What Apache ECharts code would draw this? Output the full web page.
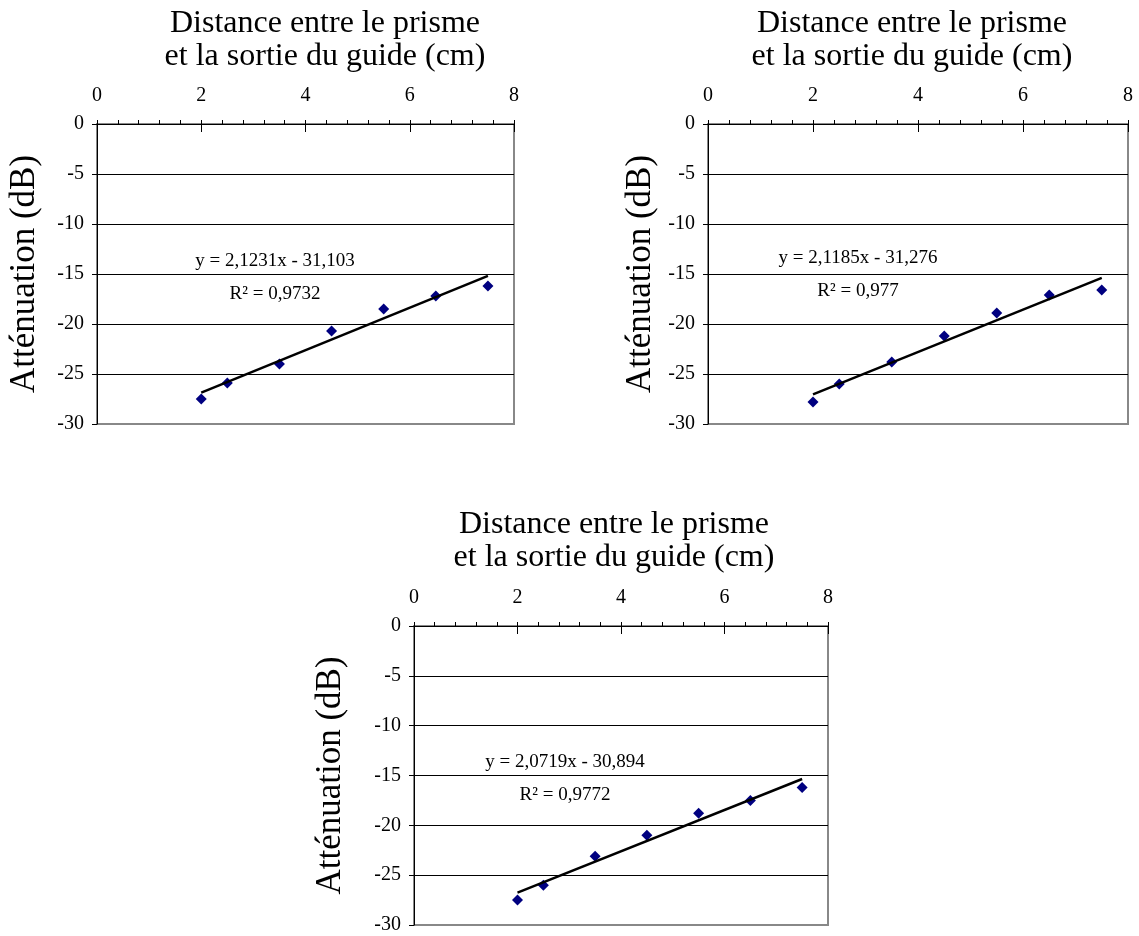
<!DOCTYPE html>
<html>
<head>
<meta charset="utf-8">
<script src="https://cdn.jsdelivr.net/npm/echarts@6/dist/echarts.min.js"></script>
<style>
html,body{margin:0;padding:0;background:#fff;}
#c{width:1139px;height:936px;}
</style>
</head>
<body>
<div id="c"></div>
<script>
// ---- data ----
var xValues = [2, 2.5, 3.5, 4.5, 5.5, 6.5, 7.5];
var atten1 = [-27.5, -25.9, -24.0, -20.7, -18.5, -17.2, -16.2];
var atten2 = [-27.8, -26.0, -23.8, -21.2, -18.9, -17.1, -16.6];
var atten3 = [-27.5, -26.0, -23.1, -21.0, -18.8, -17.5, -16.2];
var trendX = [2, 7.5];
var trend1Y = [-26.86, -15.18];
var trend2Y = [-27.04, -15.39];
var trend3Y = [-26.75, -15.35];
var eqText = ['y = 2,1231x - 31,103', 'y = 2,1185x - 31,276', 'y = 2,0719x - 30,894'];
var r2Text = ['R\u00B2 = 0,9732', 'R\u00B2 = 0,977', 'R\u00B2 = 0,9772'];
var xTicks = {min: 0, max: 8, interval: 2};
var yTicks = {min: -30, max: 0, interval: 5};
var titleText = 'Distance entre le prisme\net la sortie du guide (cm)';
var yName = 'Atténuation (dB)';

// ---- layout ----
var FONT = '"Liberation Serif", "Times New Roman", serif';
var grids = [
  {left: 97, top: 124, width: 417, height: 300},
  {left: 708, top: 124, width: 420, height: 300},
  {left: 414, top: 626, width: 414, height: 299}
];
var titlePos = [{x: 325, y: 7}, {x: 912, y: 7}, {x: 614, y: 508}];
var nameGaps = [55, 50, 66];
var eqPos = [
  {x: 275, y1: 261, y2: 294},
  {x: 858, y1: 258, y2: 291},
  {x: 565, y1: 762, y2: 795}
];
var series = [atten1, atten2, atten3];
var trends = [trend1Y, trend2Y, trend3Y];

function zip(a, b) { return a.map(function (v, i) { return [v, b[i]]; }); }

var option = {
  animation: false,
  backgroundColor: '#fff',
  title: [], grid: [], xAxis: [], yAxis: [], series: [], graphic: []
};

var splitColors = ['#888888', '#000', '#000', '#000', '#000', '#000', '#000'];

for (var k = 0; k < 3; k++) {
  option.title.push({
    text: titleText, left: titlePos[k].x, top: titlePos[k].y, textAlign: 'center', padding: 0,
    textStyle: {fontFamily: FONT, fontSize: 32, fontWeight: 'normal', color: '#000', lineHeight: 33}
  });
  option.grid.push({
    left: grids[k].left, top: grids[k].top, width: grids[k].width, height: grids[k].height,
    show: true, borderColor: '#888888', borderWidth: 2, backgroundColor: '#fff'
  });
  option.xAxis.push({
    type: 'value', gridIndex: k, position: 'top',
    min: xTicks.min, max: xTicks.max, interval: xTicks.interval,
    axisLine: {show: true, lineStyle: {color: '#000', width: 1}},
    axisTick: {show: true, inside: false, length: 4, lineStyle: {color: '#000'}},
    minorTick: {show: true, splitNumber: 5, length: 4, lineStyle: {color: '#000'}},
    splitLine: {show: false},
    axisLabel: {fontFamily: FONT, fontSize: 20, color: '#000', margin: 18}
  });
  option.xAxis.push({
    type: 'value', gridIndex: k, position: 'top',
    min: xTicks.min, max: xTicks.max, interval: xTicks.interval,
    axisLine: {show: false},
    axisTick: {show: true, inside: true, length: 8, lineStyle: {color: '#000'}},
    splitLine: {show: false},
    axisLabel: {show: false}
  });
  option.yAxis.push({
    type: 'value', gridIndex: k,
    min: yTicks.min, max: yTicks.max, interval: yTicks.interval,
    name: yName, nameLocation: 'middle', nameRotate: 90, nameGap: nameGaps[k],
    nameTextStyle: {fontFamily: FONT, fontSize: 35, color: '#000'},
    axisLine: {show: true, lineStyle: {color: '#000', width: 1}},
    axisTick: {show: true, inside: false, length: 5, lineStyle: {color: '#000'}},
    splitLine: {show: true, lineStyle: {color: splitColors, width: 1}},
    axisLabel: {fontFamily: FONT, fontSize: 20, color: '#000', margin: 13}
  });
  option.series.push({
    type: 'scatter', xAxisIndex: 2 * k, yAxisIndex: k,
    data: zip(xValues, series[k]),
    symbol: 'diamond', symbolSize: 11,
    itemStyle: {color: '#000080', opacity: 1}, z: 3
  });
  option.series.push({
    type: 'line', xAxisIndex: 2 * k, yAxisIndex: k,
    data: zip(trendX, trends[k]),
    showSymbol: false, symbol: 'none',
    lineStyle: {color: '#000', width: 2.5}, z: 4
  });
  option.graphic.push({
    type: 'text', x: eqPos[k].x, y: eqPos[k].y1, z: 10,
    style: {text: eqText[k], font: '19px ' + FONT, fill: '#000', textAlign: 'center', textVerticalAlign: 'middle'}
  });
  option.graphic.push({
    type: 'text', x: eqPos[k].x, y: eqPos[k].y2, z: 10,
    style: {text: r2Text[k], font: '19px ' + FONT, fill: '#000', textAlign: 'center', textVerticalAlign: 'middle'}
  });
}

var chart = echarts.init(document.getElementById('c'), null, {renderer: 'canvas'});
chart.setOption(option);
</script>
</body>
</html>
